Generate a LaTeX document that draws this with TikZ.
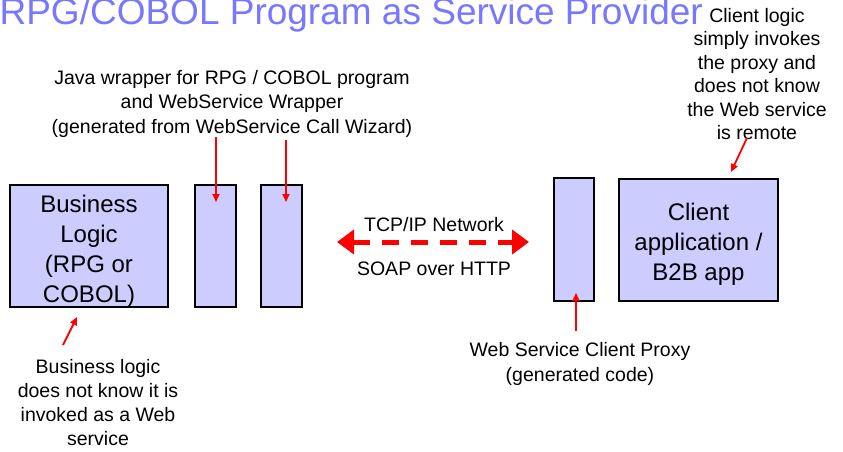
\documentclass[tikz,border=0pt]{standalone}
\usepackage{fontspec}
\setmainfont{Liberation Sans}
\usetikzlibrary{arrows.meta}
\definecolor{boxfill}{RGB}{204,204,255}
\definecolor{titleblue}{RGB}{120,120,255}

\begin{document}
\begin{tikzpicture}[x=1pt,y=-1pt,>=Stealth,
    unitbox/.style={draw=black,line width=2.2pt,fill=boxfill,inner sep=0pt,
        align=center,font=\fontsize{24}{30}\selectfont},
    note/.style={align=center,inner sep=0pt,anchor=north,
        font=\fontsize{19.5}{24}\selectfont},
    pointer/.style={red,line width=1.8pt,-{Triangle[length=8pt,width=7pt]}}]

    \useasboundingbox (0,0) rectangle (843,452);

    % titre
    \node[anchor=base east,inner sep=0pt,text=titleblue,font=\fontsize{37}{37}\selectfont]
        (title) at (703,25) {RPG/COBOL Program as Service Provider};

    % les boites
    \node[unitbox,minimum width=158pt,minimum height=122pt] (logic) at (89,246) {};
    \node[align=center,inner sep=0pt,font=\fontsize{24}{30}\selectfont] (logictxt) at (89,251)
        {Business\\Logic\\(RPG or\\COBOL)};
    \node[unitbox,minimum width=41pt,minimum height=122pt] (wrap1) at (215.5,246) {};
    \node[unitbox,minimum width=41pt,minimum height=122pt] (wrap2) at (281.5,246) {};
    \node[unitbox,minimum width=40pt,minimum height=123pt] (proxy) at (574,239.5) {};
    \node[unitbox,minimum width=159pt,minimum height=122pt] (client) at (698.5,240) {};
    \node[align=center,inner sep=0pt,font=\fontsize{24}{30}\selectfont] (clienttxt) at (698.5,244)
        {Client\\application /\\B2B app};

    % le reseau
    \coordinate (netL) at (337,242);
    \coordinate (netR) at (529,242);
    \draw[red,line width=5pt,dash pattern=on 17pt off 12pt,
        {Triangle[length=17pt,width=24pt]}-{Triangle[length=17pt,width=24pt]}] (netL) -- (netR);
    \node[note] (tcp) at (434,217) {TCP/IP Network};
    \node[note] (soap) at (434,262) {SOAP over HTTP};

    % les commentaires
    \node[note,font=\fontsize{19.5}{24.5}\selectfont] (wrapnote) at (232,70)
        {Java wrapper for RPG / COBOL program\\and WebService Wrapper\\(generated from WebService Call Wizard)};
    \node[note] (logicnote) at (98,359)
        {Business logic\\does not know it is\\invoked as a Web\\service};
    \node[note,font=\fontsize{19.5}{25}\selectfont] (proxynote) at (580,342)
        {Web Service Client Proxy\\(generated code)};
    \node[note,font=\fontsize{19.5}{23.5}\selectfont] (clientnote) at (757,8)
        {Client logic\\simply invokes\\the proxy and\\does not know\\the Web service\\is remote};

    % les fleches rouges
    \coordinate (w1a) at (216,137);  \coordinate (w1b) at (216,202);
    \coordinate (w2a) at (286,140);  \coordinate (w2b) at (286,202);
    \coordinate (la) at (63,345);    \coordinate (lb) at (77,317);
    \coordinate (pa) at (576,331);   \coordinate (pb) at (576,293);
    \coordinate (ca) at (747,138);   \coordinate (cb) at (731,172);
    \draw[pointer] (w1a) -- (w1b);
    \draw[pointer] (w2a) -- (w2b);
    \draw[pointer] (la) -- (lb);
    \draw[pointer] (pa) -- (pb);
    \draw[pointer] (ca) -- (cb);
\end{tikzpicture}
\end{document}
